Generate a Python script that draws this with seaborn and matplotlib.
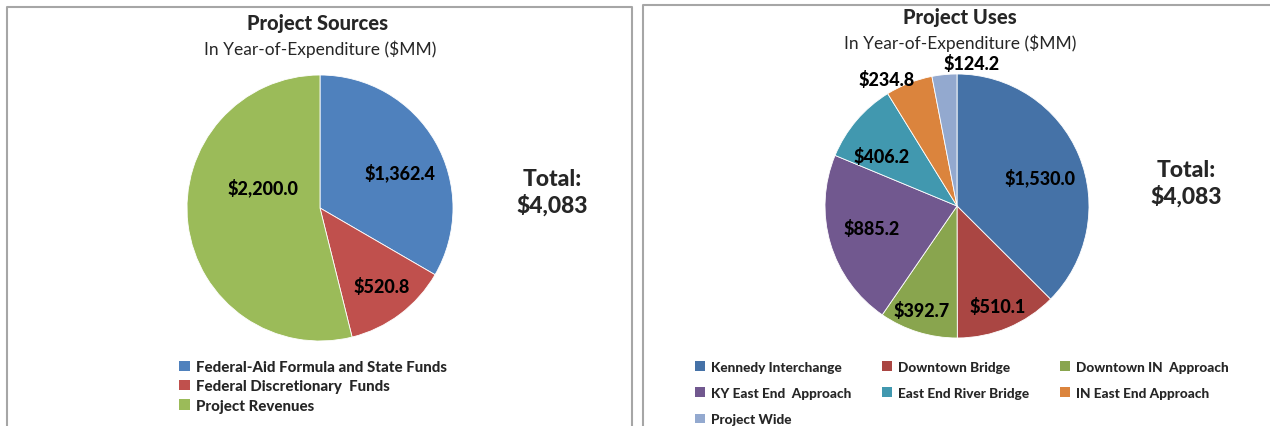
import matplotlib
matplotlib.use('Agg')
import matplotlib.pyplot as plt
from matplotlib.lines import Line2D
from matplotlib.patches import Patch
import seaborn as sns

# data
sources_labels = ["Federal-Aid Formula and State Funds", "Federal Discretionary  Funds", "Project Revenues"]
sources_values = [1362.4, 520.8, 2200.0]
sources_colors = ["#4F81BD", "#C0504D", "#9BBB59"]

uses_labels = ["Kennedy Interchange", "Downtown Bridge", "Downtown IN  Approach",
               "KY East End  Approach", "East End River Bridge", "IN East End Approach", "Project Wide"]
uses_values = [1530.0, 510.1, 392.7, 885.2, 406.2, 234.8, 124.2]
uses_colors = ["#4572A7", "#AA4643", "#89A54E", "#71588F", "#4198AF", "#DB843D", "#93A9CF"]

total_text = "$4,083"

# label offsets in pie radius units (excel "best fit" placement)
sources_lbl_pos = [(0.60, 0.27), (0.46, -0.59), (-0.43, 0.16)]
uses_lbl_pos = [(0.63, 0.22), (0.31, -0.76), (-0.27, -0.79), (-0.65, -0.17),
                (-0.57, 0.38), (-0.53, 0.96), (0.11, 1.08)]

sns.set_theme(style='white')
plt.rcParams['font.family'] = ['Lato', 'DejaVu Sans']
HEAVY = 900

W, H = 1270, 427
fig = plt.figure(figsize=(W / 100, H / 100), dpi=100)


def fx(x):
    return x / W


def fy(y):
    return 1 - y / H


def pie_axes(cx, cy, r):
    return fig.add_axes([fx(cx - r), fy(cy + r), 2 * r / W, 2 * r / H])


def draw_pie(ax, values, colors, lbl_pos):
    ax.pie(values, colors=colors, startangle=90, counterclock=False,
           wedgeprops={'edgecolor': 'white', 'linewidth': 0.6})
    for v, (dx, dy) in zip(values, lbl_pos):
        ax.text(dx, dy, f"${v:,.1f}", ha='center', va='center',
                fontsize=13, fontweight=HEAVY, color='black', clip_on=False)
    ax.set_xlim(-1, 1)
    ax.set_ylim(-1, 1)
    ax.set_aspect('equal')
    ax.axis('off')


# panel borders
border = dict(color='#A6A6A6', linewidth=1.5, transform=fig.transFigure)
fig.add_artist(Line2D([fx(7), fx(7), fx(632), fx(632)], [0, fy(8), fy(8), 0], **border))
fig.add_artist(Line2D([fx(643), fx(643), 1], [0, fy(6), fy(6)], **border))

# left panel
ax1 = pie_axes(320, 209, 133)
draw_pie(ax1, sources_values, sources_colors, sources_lbl_pos)
fig.text(fx(318), fy(30), "Project Sources", ha='center', va='baseline', fontsize=14.5, fontweight=HEAVY)
fig.text(fx(320), fy(55), "In Year-of-Expenditure ($MM)", ha='center', va='baseline', fontsize=12.5)
fig.text(fx(552), fy(186), "Total:", ha='center', va='baseline', fontsize=16.5, fontweight=HEAVY)
fig.text(fx(552), fy(213), total_text, ha='center', va='baseline', fontsize=16.5, fontweight=HEAVY)

handles1 = [Patch(facecolor=c, edgecolor='none') for c in sources_colors]
fig.legend(handles1, sources_labels, loc='upper left', bbox_to_anchor=(fx(179), fy(361)),
           frameon=False, prop={'weight': HEAVY, 'size': 10.8}, handlelength=0.7, handleheight=0.7,
           handletextpad=0.45, labelspacing=0.36, borderpad=0, borderaxespad=0)

# right panel
ax2 = pie_axes(957, 207, 132)
draw_pie(ax2, uses_values, uses_colors, uses_lbl_pos)
fig.text(fx(960), fy(24), "Project Uses", ha='center', va='baseline', fontsize=14.5, fontweight=HEAVY)
fig.text(fx(960), fy(49), "In Year-of-Expenditure ($MM)", ha='center', va='baseline', fontsize=12.5)
fig.text(fx(1186), fy(177), "Total:", ha='center', va='baseline', fontsize=16.5, fontweight=HEAVY)
fig.text(fx(1186), fy(204), total_text, ha='center', va='baseline', fontsize=16.5, fontweight=HEAVY)

# excel fills the legend row by row, matplotlib column by column
order = [0, 3, 6, 1, 4, 2, 5]
handles2 = [Patch(facecolor=uses_colors[i], edgecolor='none') for i in order]
fig.legend(handles2, [uses_labels[i] for i in order], loc='upper left', ncol=3,
           bbox_to_anchor=(fx(695), fy(362)), frameon=False,
           prop={'weight': HEAVY, 'size': 9.8}, handlelength=0.7, handleheight=0.7,
           handletextpad=0.45, labelspacing=1.03, columnspacing=2.3, borderpad=0, borderaxespad=0)

plt.savefig("out.png", dpi=100)
plt.close()
